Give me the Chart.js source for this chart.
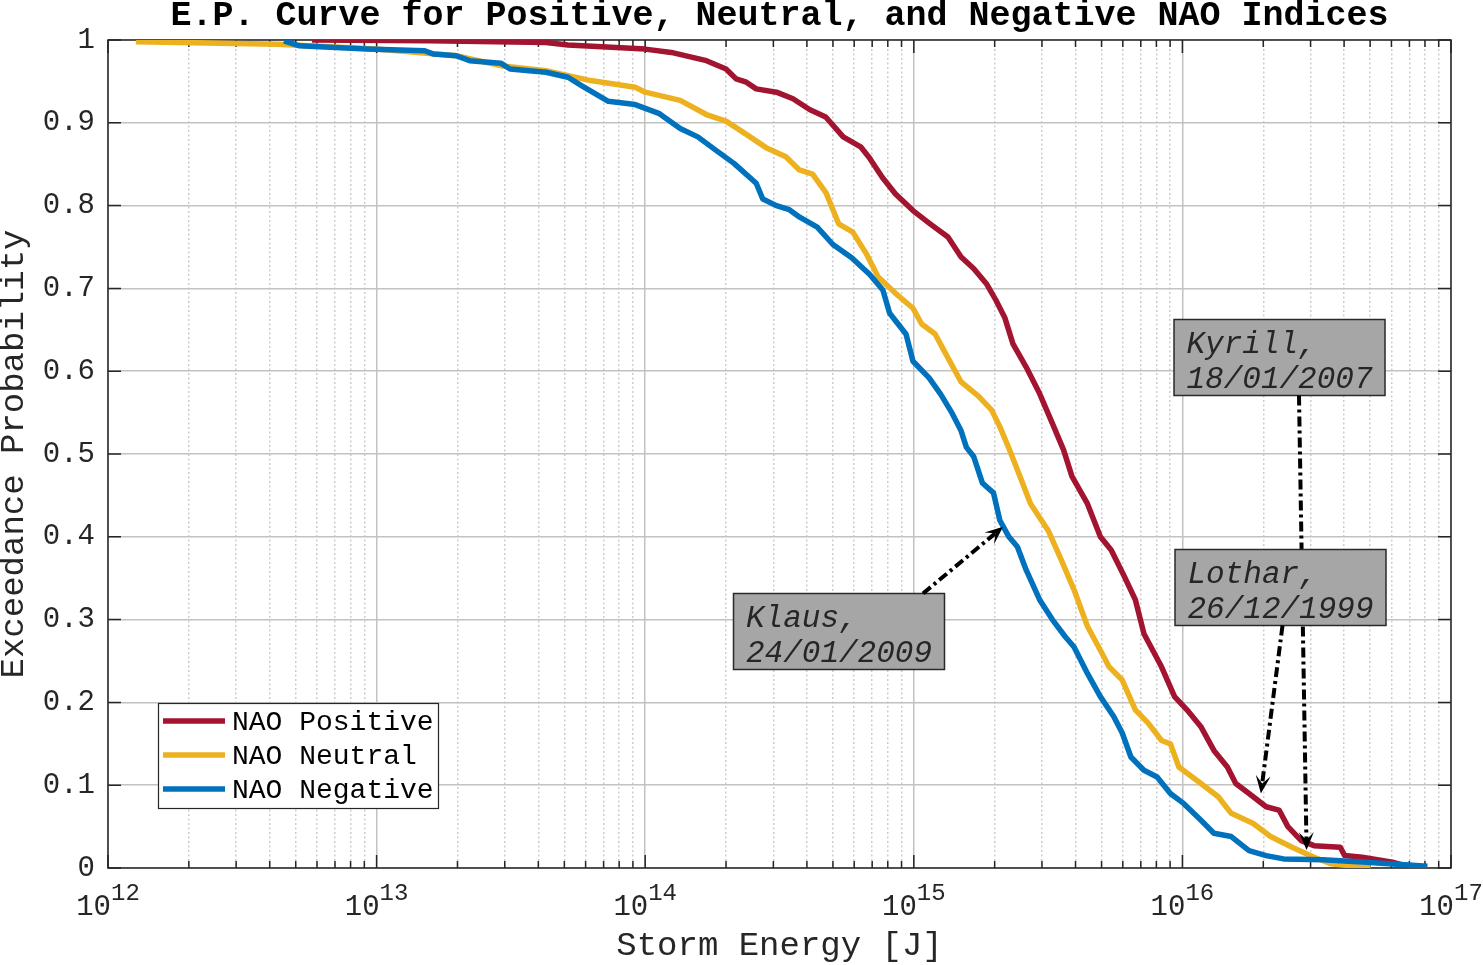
<!DOCTYPE html>
<html>
<head>
<meta charset="utf-8">
<title>E.P. Curve</title>
<script src="https://cdn.jsdelivr.net/npm/chart.js@4/dist/chart.umd.min.js"></script>
<style>
  html, body { margin: 0; padding: 0; background: #fff; }
  canvas { display: block; }
</style>
</head>
<body>
<canvas id="ep-chart" width="1483" height="965"></canvas>
<script>
// Storm energy [J] and exceedance probability
const positiveEnergy = [5.75e12, 1.58e13, 4.27e13, 5.16e13, 1.0e14, 1.25e14, 1.46e14, 1.69e14, 2.0e14, 2.18e14,
    2.38e14, 2.59e14, 3.08e14, 3.55e14, 4.09e14, 4.70e14, 5.46e14, 6.34e14, 6.82e14, 7.64e14,
    8.55e14, 9.93e14, 1.15e15, 1.34e15, 1.50e15, 1.67e15, 1.87e15, 2.02e15, 2.18e15, 2.34e15,
    2.62e15, 2.94e15, 3.28e15, 3.61e15, 3.88e15, 4.43e15, 4.95e15, 5.43e15, 6.08e15, 6.68e15,
    7.19e15, 8.36e15, 9.35e15, 1.04e16, 1.17e16, 1.31e16, 1.47e16, 1.58e16, 1.77e16, 2.05e16,
    2.29e16, 2.47e16, 2.77e16, 3.09e16, 3.87e16, 4.02e16, 4.67e16, 6.05e16, 7.03e16];
const positiveProb = [1.000, 0.999, 0.997, 0.994, 0.989, 0.985, 0.980, 0.975, 0.965, 0.953,
    0.949, 0.941, 0.937, 0.929, 0.916, 0.907, 0.883, 0.871, 0.858, 0.834,
    0.814, 0.794, 0.778, 0.762, 0.738, 0.724, 0.705, 0.686, 0.665, 0.633,
    0.605, 0.573, 0.537, 0.505, 0.473, 0.440, 0.400, 0.384, 0.352, 0.324,
    0.283, 0.243, 0.207, 0.191, 0.171, 0.142, 0.122, 0.102, 0.090, 0.074,
    0.070, 0.050, 0.033, 0.027, 0.025, 0.015, 0.013, 0.007, 0.001];

const neutralEnergy = [1.27e12, 4.27e12, 9.93e12, 1.98e13, 2.90e13, 4.27e13, 6.27e13, 9.18e13, 1.0e14, 1.35e14,
    1.69e14, 2.0e14, 2.38e14, 2.82e14, 3.34e14, 3.75e14, 4.20e14, 4.72e14, 5.25e14, 5.93e14,
    6.65e14, 7.36e14, 8.55e14, 9.93e14, 1.07e15, 1.20e15, 1.29e15, 1.50e15, 1.74e15, 1.95e15,
    2.09e15, 2.26e15, 2.43e15, 2.72e15, 3.16e15, 3.54e15, 3.95e15, 4.43e15, 4.95e15, 5.33e15,
    5.97e15, 6.68e15, 7.46e15, 8.36e15, 9.02e15, 9.70e15, 1.13e16, 1.36e16, 1.52e16, 1.83e16,
    2.13e16, 2.56e16, 3.09e16, 3.59e16, 5.02e16];
const neutralProb = [0.998, 0.995, 0.989, 0.981, 0.969, 0.963, 0.951, 0.943, 0.937, 0.927,
    0.910, 0.902, 0.886, 0.870, 0.859, 0.843, 0.838, 0.815, 0.778, 0.768,
    0.742, 0.714, 0.694, 0.676, 0.657, 0.645, 0.626, 0.587, 0.570, 0.553,
    0.533, 0.507, 0.481, 0.440, 0.408, 0.372, 0.336, 0.292, 0.263, 0.243,
    0.227, 0.191, 0.175, 0.154, 0.150, 0.122, 0.106, 0.086, 0.066, 0.054,
    0.038, 0.025, 0.013, 0.005, 0.000];

const negativeEnergy = [4.52e12, 5.16e12, 9.18e12, 1.51e13, 1.63e13, 1.98e13, 2.22e13, 2.90e13, 3.14e13, 4.27e13,
    5.16e13, 5.79e13, 7.29e13, 9.18e13, 1.13e14, 1.35e14, 1.57e14, 1.83e14, 2.14e14, 2.59e14,
    2.74e14, 3.08e14, 3.44e14, 3.76e14, 4.37e14, 5.00e14, 5.87e14, 6.84e14, 7.67e14, 8.13e14,
    9.35e14, 9.93e14, 1.14e15, 1.26e15, 1.39e15, 1.50e15, 1.57e15, 1.67e15, 1.80e15, 1.98e15,
    2.09e15, 2.26e15, 2.43e15, 2.62e15, 2.94e15, 3.28e15, 3.67e15, 3.95e15, 4.43e15, 4.95e15,
    5.55e15, 5.97e15, 6.43e15, 7.19e15, 8.05e15, 9.02e15, 1.01e16, 1.17e16, 1.31e16, 1.52e16,
    1.77e16, 2.05e16, 2.38e16, 3.33e16, 4.84e16, 8.17e16];
const negativeProb = [0.999, 0.993, 0.989, 0.987, 0.983, 0.981, 0.975, 0.972, 0.965, 0.961,
    0.955, 0.945, 0.926, 0.922, 0.911, 0.893, 0.883, 0.867, 0.851, 0.827,
    0.808, 0.800, 0.795, 0.786, 0.774, 0.753, 0.737, 0.717, 0.698, 0.670,
    0.645, 0.612, 0.592, 0.572, 0.549, 0.528, 0.508, 0.497, 0.465, 0.453,
    0.420, 0.400, 0.388, 0.360, 0.324, 0.300, 0.279, 0.267, 0.235, 0.207,
    0.183, 0.163, 0.134, 0.118, 0.110, 0.090, 0.078, 0.058, 0.042, 0.038,
    0.021, 0.015, 0.011, 0.010, 0.007, 0.002];

const seriesLabels = ['NAO Positive', 'NAO Neutral', 'NAO Negative'];
const seriesColors = ['#A2142F', '#EDB120', '#0072BD'];

// Axis ticks
const decadeTicks = [1e12, 1e13, 1e14, 1e15, 1e16, 1e17];
const minorSteps = [2, 3, 4, 5, 6, 7, 8, 9];

// Storm events pointed at on the curves
const storms = [
    { lines: ['Kyrill,', '18/01/2007'], energy: 2.9e16, prob: 0.0217 },
    { lines: ['Klaus,', '24/01/2009'], energy: 2.15e15, prob: 0.412 },
    { lines: ['Lothar,', '26/12/1999'], energy: 1.96e16, prob: 0.090 },
];
// where each text box sits (pixels) and where its arrow leaves it
const stormBoxes = [
    { x: 1174, y: 319.5, w: 211, h: 76, tailX: 1299, tailY: 395.5 },
    { x: 733.5, y: 593.5, w: 211, h: 76, tailX: 923, tailY: 593.5 },
    { x: 1175, y: 549.5, w: 211, h: 76, tailX: 1282.5, tailY: 625.5 },
];

const FONT = '"Liberation Mono", "Courier New", monospace';
const axisColor = '#262626';
const majorGrid = '#c2c2c2';
const minorGrid = '#cdcdcd';

function isDecade(v) {
    const l = Math.log10(v);
    return Math.abs(l - Math.round(l)) < 1e-6;
}

function toPoints(xs, ys) {
    return xs.map((x, i) => ({ x: x, y: ys[i] }));
}

const xGridValues = [];
decadeTicks.forEach((d, i) => {
    xGridValues.push(d);
    if (i < decadeTicks.length - 1) {
        minorSteps.forEach(m => xGridValues.push(m * d));
    }
});

// Function to draw a dash-dot arrow with a vback head
function drawArrow(ctx, x0, y0, x1, y1) {
    const ang = Math.atan2(y1 - y0, x1 - x0);
    const headLen = 18, headHalf = 7.5, notch = 10;
    const bx = x1 - Math.cos(ang) * notch;
    const by = y1 - Math.sin(ang) * notch;
    ctx.save();
    ctx.strokeStyle = '#000';
    ctx.lineWidth = 4;
    ctx.setLineDash([10, 4, 3, 4]);
    ctx.beginPath();
    ctx.moveTo(x0, y0);
    ctx.lineTo(bx, by);
    ctx.stroke();
    ctx.setLineDash([]);
    const hx = x1 - Math.cos(ang) * headLen;
    const hy = y1 - Math.sin(ang) * headLen;
    const px = -Math.sin(ang) * headHalf;
    const py = Math.cos(ang) * headHalf;
    ctx.fillStyle = '#000';
    ctx.beginPath();
    ctx.moveTo(x1, y1);
    ctx.lineTo(hx + px, hy + py);
    ctx.lineTo(bx, by);
    ctx.lineTo(hx - px, hy - py);
    ctx.closePath();
    ctx.fill();
    ctx.restore();
}

const frame = {
    id: 'frame',
    beforeDatasetsDraw(chart) {
        const { ctx, chartArea: { left, right, top, bottom }, scales: { x, y } } = chart;
        ctx.save();
        ctx.strokeStyle = axisColor;
        ctx.lineWidth = 1.5;
        ctx.beginPath();
        x.ticks.forEach(t => {
            const px = x.getPixelForValue(t.value);
            const len = isDecade(t.value) ? 13 : 7;
            ctx.moveTo(px, bottom);
            ctx.lineTo(px, bottom - len);
            ctx.moveTo(px, top);
            ctx.lineTo(px, top + len);
        });
        y.ticks.forEach(t => {
            const py = y.getPixelForValue(t.value);
            ctx.moveTo(left, py);
            ctx.lineTo(left + 13, py);
            ctx.moveTo(right, py);
            ctx.lineTo(right - 13, py);
        });
        ctx.stroke();
        ctx.strokeRect(left, top, right - left, bottom - top);
        ctx.restore();
    },
    afterDraw(chart) {
        const { ctx, chartArea: { left, right, top, bottom }, scales: { x, y } } = chart;
        const midX = (left + right) / 2;
        ctx.save();

        // title
        ctx.fillStyle = '#000';
        ctx.textAlign = 'center';
        ctx.textBaseline = 'alphabetic';
        ctx.font = 'bold 35px ' + FONT;
        ctx.fillText('E.P. Curve for Positive, Neutral, and Negative NAO Indices', midX, 25);

        // x tick labels as 10^n
        ctx.fillStyle = axisColor;
        ctx.textAlign = 'left';
        decadeTicks.forEach(v => {
            const px = x.getPixelForValue(v);
            const exp = String(Math.round(Math.log10(v)));
            ctx.font = '29px ' + FONT;
            const wBase = ctx.measureText('10').width;
            ctx.font = '24px ' + FONT;
            const wExp = ctx.measureText(exp).width;
            const start = px - (wBase + wExp) / 2;
            ctx.font = '29px ' + FONT;
            ctx.fillText('10', start, 915);
            ctx.font = '24px ' + FONT;
            ctx.fillText(exp, start + wBase, 900);
        });

        // axis titles
        ctx.font = '34px ' + FONT;
        ctx.textAlign = 'center';
        ctx.fillText('Storm Energy [J]', midX, 955);
        ctx.save();
        ctx.translate(23, (top + bottom) / 2);
        ctx.rotate(-Math.PI / 2);
        ctx.fillText('Exceedance Probability', 0, 0);
        ctx.restore();

        // legend
        const lg = { x: 158.5, y: 703.5, w: 280, h: 105 };
        ctx.fillStyle = '#fff';
        ctx.fillRect(lg.x, lg.y, lg.w, lg.h);
        ctx.strokeStyle = axisColor;
        ctx.lineWidth = 1.2;
        ctx.strokeRect(lg.x, lg.y, lg.w, lg.h);
        ctx.font = '28px ' + FONT;
        ctx.textAlign = 'left';
        seriesLabels.forEach((label, i) => {
            const ry = 721 + i * 34;
            ctx.strokeStyle = seriesColors[i];
            ctx.lineWidth = 5.5;
            ctx.beginPath();
            ctx.moveTo(163, ry);
            ctx.lineTo(225, ry);
            ctx.stroke();
            ctx.fillStyle = '#000';
            ctx.fillText(label, 232, ry + 9);
        });

        // storm annotations
        storms.forEach((s, i) => {
            const b = stormBoxes[i];
            ctx.fillStyle = '#a6a6a6';
            ctx.fillRect(b.x, b.y, b.w, b.h);
            ctx.strokeStyle = '#2a2a2a';
            ctx.lineWidth = 1.5;
            ctx.strokeRect(b.x, b.y, b.w, b.h);
            ctx.fillStyle = '#262626';
            ctx.font = 'italic 31px ' + FONT;
            ctx.textAlign = 'left';
            ctx.fillText(s.lines[0], b.x + 12.5, b.y + 33);
            ctx.fillText(s.lines[1], b.x + 12.5, b.y + 68);
            drawArrow(ctx, b.tailX, b.tailY, x.getPixelForValue(s.energy), y.getPixelForValue(s.prob));
        });

        ctx.restore();
    }
};

const ctx = document.getElementById('ep-chart').getContext('2d');

const epChart = new Chart(ctx, {
    type: 'line',
    data: {
        datasets: [
            {
                label: seriesLabels[0],
                data: toPoints(positiveEnergy, positiveProb),
                borderColor: seriesColors[0],
                order: 3,
            },
            {
                label: seriesLabels[1],
                data: toPoints(neutralEnergy, neutralProb),
                borderColor: seriesColors[1],
                order: 2,
            },
            {
                label: seriesLabels[2],
                data: toPoints(negativeEnergy, negativeProb),
                borderColor: seriesColors[2],
                order: 1,
            },
        ],
    },
    options: {
        responsive: false,
        animation: false,
        devicePixelRatio: 1,
        layout: { padding: { top: 40, right: 32, bottom: 0, left: 0 } },
        elements: {
            line: { borderWidth: 5.5, tension: 0, fill: false, borderJoinStyle: 'round', borderCapStyle: 'butt' },
            point: { radius: 0 },
        },
        plugins: {
            legend: { display: false },
            title: { display: false },
            tooltip: { enabled: false },
        },
        scales: {
            x: {
                type: 'logarithmic',
                min: 1e12,
                max: 1e17,
                afterBuildTicks: scale => {
                    scale.ticks = xGridValues.map(v => ({ value: v }));
                },
                afterFit: scale => { scale.height = 97; },
                ticks: { display: false, autoSkip: false },
                grid: {
                    drawTicks: false,
                    color: c => (c.tick && !isDecade(c.tick.value)) ? minorGrid : majorGrid,
                    lineWidth: 1.5,
                },
                border: {
                    display: false,
                    dash: c => (c.tick && !isDecade(c.tick.value)) ? [2, 2.5] : [],
                },
            },
            y: {
                type: 'linear',
                min: 0,
                max: 1,
                afterFit: scale => { scale.width = 108; },
                ticks: {
                    stepSize: 0.1,
                    padding: 13,
                    color: axisColor,
                    font: { family: FONT, size: 29 },
                    callback: v => String(Math.round(v * 10) / 10),
                },
                grid: { drawTicks: false, color: majorGrid, lineWidth: 1.5 },
                border: { display: false },
            },
        },
    },
    plugins: [frame],
});
</script>
</body>
</html>
